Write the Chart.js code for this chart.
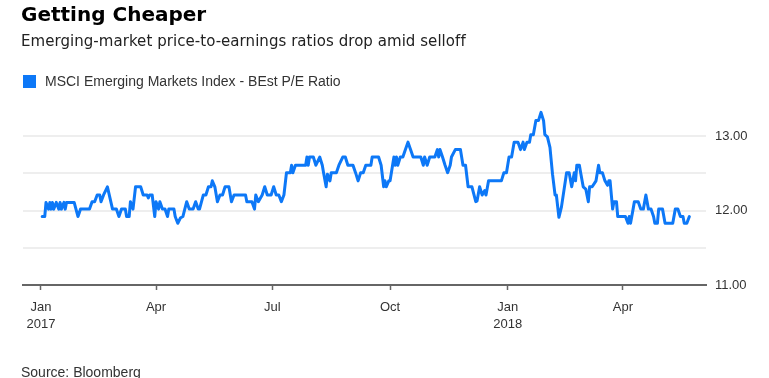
<!DOCTYPE html>
<html>
<head>
<meta charset="utf-8">
<script src="https://cdn.jsdelivr.net/npm/chart.js@4.4.1/dist/chart.umd.min.js"></script>
<style>
html,body{margin:0;padding:0;background:#fff;width:769px;height:378px;overflow:hidden;}
#wrap{position:relative;width:769px;height:378px;}
canvas{position:absolute;left:0;top:0;}
.t{position:absolute;white-space:nowrap;margin:0;}
#title{left:21px;top:4px;font:bold 20px/20px "DejaVu Sans",sans-serif;color:#000;}
#sub{left:21px;top:34px;font:15px/15px "DejaVu Sans",sans-serif;letter-spacing:0.05px;color:#222;}
#legbox{position:absolute;left:23px;top:75px;width:13px;height:13px;}
#legtxt{left:45px;top:74px;font:14px/14px "Liberation Sans",sans-serif;color:#333;}
#src{left:21px;top:365px;font:14px/14px "Liberation Sans",sans-serif;color:#333;}
</style>
</head>
<body>
<div id="wrap">
<canvas id="c" width="769" height="378"></canvas>
<div class="t" id="title">Getting Cheaper</div>
<div class="t" id="sub">Emerging-market price-to-earnings ratios drop amid selloff</div>
<div id="legbox"></div>
<div class="t" id="legtxt"></div>
<div class="t" id="src">Source: Bloomberg</div>
</div>
<script>
// Days since 2017-01-01 for each observation
const tradingDays = [1,3,4,6,7,8,9,10,12,14,15,16,18,19,20,26,29,31,38,40,42,44,46,47,49,52,56,59,61,63,66,67,69,70,72,74,78,80,83,84,85,87,89,90,92,93,95,97,99,100,104,105,107,109,111,114,116,119,121,123,124,127,129,131,133,134,136,138,140,142,144,147,149,151,160,161,165,167,168,170,173,175,177,180,182,184,186,188,190,192,195,196,197,199,207,208,209,210,213,215,218,220,221,223,224,226,227,231,233,236,238,240,244,246,248,250,252,254,258,259,264,266,268,269,270,272,273,276,277,278,279,281,283,285,287,289,291,297,299,300,302,304,308,310,311,312,314,316,318,320,321,324,328,330,332,334,337,340,341,343,345,347,348,350,360,362,364,366,368,370,372,373,375,377,378,380,382,383,385,387,389,391,393,394,396,398,400,402,403,405,407,411,413,415,417,418,419,421,422,424,426,428,429,431,434,436,437,439,441,443,444,445,447,448,450,451,457,459,460,461,463,464,467,469,471,473,475,477,479,480,482,483,486,488,494,496,498,500,502,503,505,507];
// MSCI Emerging Markets Index - BEst P/E Ratio
const peRatio = [11.92,11.92,12.11,12.02,12.11,12.02,12.11,12.02,12.11,12.02,12.11,12.02,12.11,12.02,12.11,12.11,11.92,12.02,12.02,12.12,12.12,12.21,12.21,12.12,12.21,12.32,12.02,12.02,11.92,12.02,12.02,11.92,11.92,12.12,12.02,12.32,12.32,12.21,12.21,12.17,12.21,12.21,11.92,12.12,12.02,12.12,12.02,12.02,11.92,12.02,12.02,11.92,11.83,11.90,11.92,12.12,12.02,12.02,12.12,12.02,12.02,12.21,12.21,12.32,12.32,12.40,12.32,12.12,12.21,12.21,12.32,12.32,12.12,12.21,12.21,12.12,12.12,12.02,12.21,12.12,12.21,12.32,12.21,12.21,12.32,12.21,12.21,12.12,12.21,12.51,12.51,12.61,12.51,12.61,12.61,12.72,12.61,12.72,12.72,12.61,12.72,12.61,12.51,12.32,12.49,12.40,12.51,12.51,12.61,12.72,12.72,12.61,12.61,12.51,12.40,12.51,12.51,12.61,12.61,12.72,12.72,12.61,12.32,12.40,12.32,12.40,12.40,12.72,12.61,12.72,12.61,12.72,12.72,12.82,12.92,12.82,12.72,12.72,12.61,12.72,12.61,12.72,12.72,12.82,12.72,12.82,12.72,12.61,12.51,12.61,12.72,12.82,12.82,12.61,12.61,12.32,12.32,12.12,12.13,12.32,12.21,12.27,12.21,12.40,12.40,12.51,12.51,12.72,12.72,12.92,12.92,12.92,12.82,12.92,12.82,12.92,12.92,13.02,13.02,13.21,13.21,13.32,13.21,13.02,12.99,12.85,12.49,12.21,12.21,11.91,12.05,12.51,12.51,12.32,12.51,12.40,12.61,12.61,12.51,12.32,12.29,12.12,12.32,12.32,12.40,12.61,12.51,12.51,12.40,12.34,12.40,12.40,12.02,12.12,12.12,11.92,11.92,11.83,11.92,11.83,12.02,12.12,12.12,12.02,12.02,12.21,12.02,12.02,11.92,11.83,11.83,12.02,12.02,11.83,11.83,12.02,12.02,11.92,11.92,11.83,11.83,11.92];
const seriesLabel = 'MSCI Emerging Markets Index - BEst P/E Ratio';
// x-axis ticks: days since 2017-01-01 and their labels
const xTickDays = [0, 90, 181, 273, 365, 455];
const xTickLabels = [['Jan','2017'], 'Apr', 'Jul', 'Oct', ['Jan','2018'], 'Apr'];
// y-axis gridline values and labelled values
const yGridValues = [11, 11.5, 12, 12.5, 13, 13.5];
const yLabelValues = [11, 12, 13];

const lineColor = '#0d78f7';
document.getElementById('legbox').style.background = lineColor;
document.getElementById('legtxt').textContent = seriesLabel;

new Chart(document.getElementById('c'), {
  type: 'line',
  data: {
    datasets: [{
      label: seriesLabel,
      data: tradingDays.map((d, i) => ({x: d, y: peRatio[i]})),
      borderColor: lineColor,
      backgroundColor: lineColor,
      borderWidth: 3,
      pointRadius: 0,
      tension: 0,
      fill: false,
      borderJoinStyle: 'round',
      borderCapStyle: 'round'
    }]
  },
  options: {
    responsive: false,
    animation: false,
    devicePixelRatio: 1,
    layout: {padding: {left: 23, top: 99, right: 0, bottom: 0}},
    plugins: {legend: {display: false}, tooltip: {enabled: false}, title: {display: false}},
    scales: {
      x: {
        type: 'linear',
        min: -14,
        max: 520,
        afterBuildTicks: s => { s.ticks = xTickDays.map(v => ({value: v})); },
        afterFit: s => { s.height = 93; },
        grid: {drawOnChartArea: false, drawTicks: true, tickLength: 5, tickColor: '#666', tickWidth: 1.5},
        border: {display: true, color: '#666', width: 2},
        ticks: {
          autoSkip: false, maxRotation: 0, padding: 9, color: '#333',
          font: {family: 'Liberation Sans', size: 13, lineHeight: 1.3},
          callback: v => { const i = xTickDays.indexOf(v); return i < 0 ? '' : xTickLabels[i]; }
        }
      },
      y: {
        position: 'right',
        min: 11,
        max: 13.5,
        afterBuildTicks: s => { s.ticks = yGridValues.map(v => ({value: v})); },
        afterFit: s => { s.width = 63; },
        grid: {
          drawTicks: false,
          lineWidth: 2,
          color: c => (c.tick && (c.tick.value === 11 || c.tick.value === 13.5)) ? 'rgba(0,0,0,0)' : '#eeeeee'
        },
        border: {display: false},
        ticks: {
          padding: 9, color: '#333',
          font: {family: 'Liberation Sans', size: 13},
          callback: v => yLabelValues.includes(v) ? v.toFixed(2) : ''
        }
      }
    }
  }
});
</script>
</body>
</html>
